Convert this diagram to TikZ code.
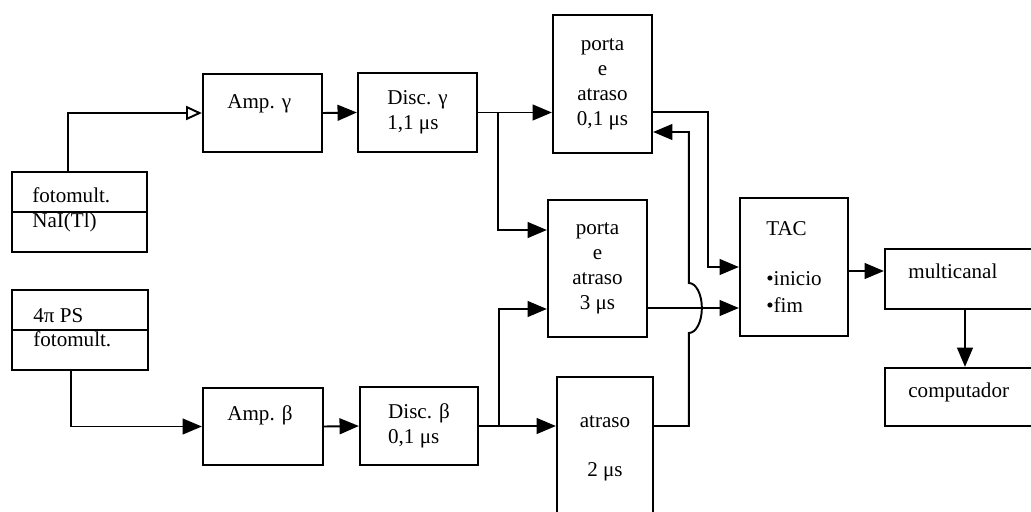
\documentclass[tikz,border=0pt]{standalone}
\usepackage{fontspec}
\setmainfont{Liberation Serif}
\usetikzlibrary{arrows.meta}
\usetikzlibrary{calc}

\begin{document}
\begin{tikzpicture}[
    x=0.02cm, y=-0.02cm,
    blk/.style={rectangle, draw=black, line width=1.3pt, inner sep=0pt, align=center, font=\fontsize{12}{14.2}\selectfont},
    txt/.style={inner sep=0pt, anchor=base west, font=\fontsize{12}{14.2}\selectfont},
    arrow/.style={-{Triangle[length=11pt, width=9pt]}, line width=1.1pt},
    oarrow/.style={-{Triangle[open, length=9pt, width=8pt]}, line width=1.1pt}
]
\useasboundingbox (0,0) rectangle (1031,511);
\clip (0,0) rectangle (1031,511);

% detectors
\node[blk, minimum width=2.70cm, minimum height=1.60cm] (PmNaI) at (79.5,212) {};
\draw[line width=1.1pt] (PmNaI.west) -- (PmNaI.east);
\node[txt] (PmNaIa) at (32,202) {fotomult.};
\node[txt] (PmNaIb) at (32,227) {NaI(Tl)};

\node[blk, minimum width=2.72cm, minimum height=1.60cm] (PmPS) at (80,330) {};
\draw[line width=1.1pt] (PmPS.west) -- (PmPS.east);
\node[txt] (PmPSa) at (33,322) {4π PS};
\node[txt] (PmPSb) at (33,346) {fotomult.};

% amplifiers and discriminators
\node[blk, minimum width=2.38cm, minimum height=1.56cm] (AmpG) at (262.5,113) {};
\node[txt] (AmpGt) at (227,108) {Amp. γ};
\node[blk, minimum width=2.40cm, minimum height=1.54cm] (AmpB) at (263,426.5) {};
\node[txt] (AmpBt) at (227,420) {Amp. β};

\node[blk, align=left, minimum width=2.38cm, minimum height=1.58cm] (DiscG) at (417.5,112.5) {Disc. γ\\1,1 μs};
\node[blk, align=left, minimum width=2.36cm, minimum height=1.56cm] (DiscB) at (419,426) {Disc. β\\0,1 μs};

% gates and delays
\node[blk, minimum width=1.98cm, minimum height=2.76cm] (Gate1) at (602.5,84) {porta\\e\\atraso\\0,1 μs};
\node[blk, minimum width=1.98cm, minimum height=2.74cm] (Gate3) at (597.5,268.5) {porta\\e\\atraso\\3 μs};
\node[blk, minimum width=1.92cm, minimum height=2.86cm] (Delay2) at (605,448.5) {atraso\\[14pt]2 μs};

\node[blk, align=left, minimum width=2.16cm, minimum height=2.76cm] (TAC) at (794,267) {TAC\\[14pt]\textbullet inicio\\[1pt]\textbullet fim};

\node[blk, minimum width=3.2cm, minimum height=1.2cm] (MCA) at (965,279) {};
\node[txt] (MCAt) at (908,278) {multicanal};
\node[blk, minimum width=3.2cm, minimum height=1.16cm] (Comp) at (965,397) {};
\node[txt] (Compt) at (908,397) {computador};

% gamma branch
\draw[oarrow] ([xshift=-0.23cm]PmNaI.north) |- (AmpG.west);
\draw[arrow] (AmpG.east) -- (DiscG.west);
\draw[arrow] (DiscG.east) -- (DiscG.east -| Gate1.west);
\coordinate (JG) at ([xshift=0.4cm]DiscG.east);
\draw[arrow] (JG) |- ([yshift=0.77cm]Gate3.west);

% beta branch
\draw[arrow] ([xshift=-0.18cm]PmPS.south) |- (AmpB.west);
\draw[arrow] (AmpB.east) -- (DiscB.west);
\draw[arrow] (DiscB.east) -- (DiscB.east -| Delay2.west);
\coordinate (JB) at ([xshift=0.4cm]DiscB.east);
\draw[arrow] (JB) |- ([yshift=-0.81cm]Gate3.west);

% TAC inputs
\coordinate (Ini) at (TAC.west);
\coordinate (Fim) at ([yshift=-0.82cm]TAC.west);
\draw[arrow] ([yshift=-0.56cm]Gate1.east) -| ($(Ini)+(-31,0)$) -- (Ini);
\draw[arrow] (Fim -| Gate3.east) -- (Fim);
\draw[arrow] (Delay2.east |- DiscB.east) -| ($(Fim)+(-50,25)$)
    arc[start angle=-90, end angle=90, x radius=0.26cm, y radius=0.5cm]
    |- ([yshift=-0.96cm]Gate1.east);

\draw[arrow] ([yshift=-0.08cm]TAC.east) -- ([yshift=-0.08cm]TAC.east -| MCA.west);
\draw[arrow] (MCA.south) -- (Comp.north);
\end{tikzpicture}
\end{document}
